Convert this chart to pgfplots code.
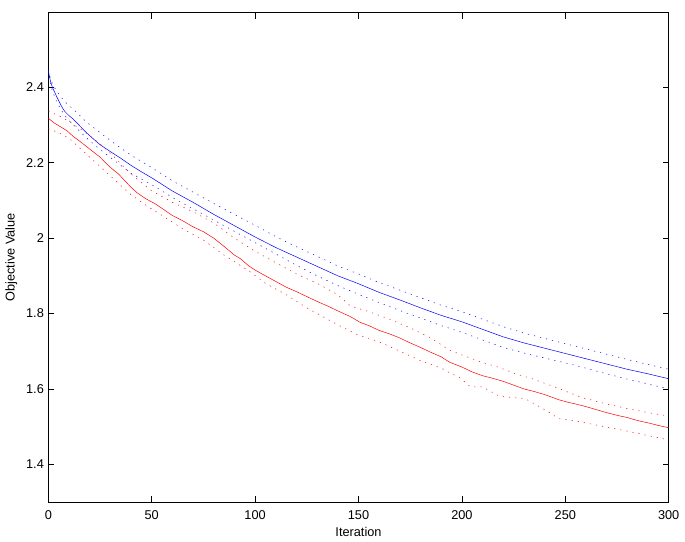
\documentclass[border=0pt]{standalone}
\usepackage{fontspec}
\setmainfont{Liberation Sans}
\usepackage{pgfplots}
\pgfplotsset{compat=1.18}

\begin{document}
\fontsize{12.8}{14}\selectfont
\begin{tikzpicture}
\path[use as bounding box] (0,0) rectangle (685bp,542bp);
\begin{axis}[
  at={(48.3bp,40bp)}, anchor=south west,
  scale only axis, width=620.4bp, height=489.3bp,
  xmin=0, xmax=300, ymin=1.3, ymax=2.598,
  xtick={0,50,...,300}, ytick={1.4,1.6,1.8,2,2.2,2.4},
  yticklabel style={/pgf/number format/fixed, /pgf/number format/precision=1},
  /pgf/number format/assume math mode=true,
  tick align=inside, major tick length=6bp,
  tick style={black, line width=0.5bp},
  axis line style={line width=0.6bp},
  xticklabel style={yshift=-4bp},
  xlabel={Iteration}, ylabel={Objective Value},
  xlabel style={at={(axis description cs:0.5,0)}, anchor=north, yshift=-20.5bp},
  ylabel style={at={(axis description cs:0,0.5)}, anchor=center, yshift=37bp},
  every axis plot/.append style={line width=0.5bp},
]
% blue mean
\addplot[blue] coordinates {(0,2.445)(0.5,2.43)(1,2.418)(1.5,2.408)(2,2.40)(3,2.388)(4,2.376)(5,2.365)(6,2.354)(7,2.344)(8,2.336)(10,2.325)(12,2.316)(15,2.299)(18,2.282)(21,2.267)(25,2.248)(31,2.226)(35,2.212)(40,2.193)(45,2.176)(50,2.16)(60,2.125)(70,2.095)(80,2.063)(90,2.033)(100,2.003)(110,1.975)(120,1.95)(130,1.925)(140,1.90)(150,1.879)(160,1.856)(170,1.836)(180,1.815)(190,1.795)(200,1.778)(210,1.758)(220,1.738)(230,1.722)(240,1.708)(250,1.694)(260,1.68)(270,1.666)(280,1.652)(290,1.64)(300,1.627)};
% blue bounds
\addplot[blue, dash pattern=on 1.2bp off 5bp] coordinates {(0,2.445)(1,2.425)(2,2.41)(4,2.39)(6,2.375)(8,2.362)(10,2.352)(14,2.332)(18,2.31)(25,2.28)(31,2.255)(40,2.22)(50,2.187)(60,2.152)(70,2.122)(80,2.092)(90,2.063)(100,2.034)(110,2.004)(120,1.977)(130,1.952)(140,1.926)(150,1.905)(160,1.882)(170,1.862)(180,1.842)(190,1.822)(200,1.805)(210,1.785)(220,1.765)(230,1.748)(240,1.734)(250,1.72)(260,1.706)(270,1.692)(280,1.678)(290,1.665)(300,1.652)};
\addplot[blue, dash pattern=on 1.2bp off 5bp] coordinates {(0,2.445)(1,2.41)(2,2.39)(4,2.362)(6,2.342)(8,2.325)(10,2.312)(14,2.29)(18,2.268)(25,2.235)(31,2.21)(40,2.172)(50,2.142)(60,2.108)(70,2.078)(80,2.048)(90,2.018)(100,1.988)(110,1.958)(120,1.928)(130,1.90)(140,1.874)(150,1.851)(160,1.829)(170,1.808)(180,1.788)(190,1.768)(200,1.75)(210,1.73)(220,1.71)(230,1.695)(240,1.682)(250,1.669)(260,1.655)(270,1.64)(280,1.626)(290,1.613)(300,1.60)};
% red mean
\addplot[red] coordinates {(0,2.318)(3,2.305)(6,2.295)(9,2.285)(12,2.27)(15,2.258)(18,2.245)(21,2.232)(25,2.215)(28,2.198)(31,2.183)(34,2.17)(37,2.152)(40,2.135)(43,2.12)(47,2.105)(52,2.09)(56,2.075)(60,2.06)(65,2.046)(70,2.03)(75,2.017)(80,2.0)(85,1.978)(90,1.955)(93,1.945)(97,1.926)(101,1.912)(105,1.9)(110,1.885)(115,1.87)(120,1.858)(125,1.845)(130,1.832)(135,1.82)(140,1.807)(146,1.792)(151,1.776)(155,1.768)(160,1.755)(165,1.746)(170,1.735)(175,1.722)(180,1.71)(185,1.697)(190,1.685)(194,1.671)(200,1.658)(205,1.645)(210,1.635)(215,1.628)(220,1.62)(225,1.61)(230,1.60)(235,1.593)(240,1.585)(247,1.571)(251,1.565)(255,1.56)(260,1.553)(265,1.545)(270,1.537)(275,1.53)(280,1.524)(285,1.516)(290,1.51)(295,1.503)(300,1.497)};
% red bounds
\addplot[red, dash pattern=on 1.2bp off 5bp] coordinates {(0,2.337)(5,2.325)(10,2.31)(18,2.28)(25,2.25)(31,2.22)(40,2.17)(50,2.125)(60,2.095)(70,2.07)(80,2.04)(90,2.0)(100,1.965)(110,1.935)(120,1.905)(130,1.88)(140,1.85)(146,1.82)(155,1.805)(165,1.785)(175,1.762)(185,1.735)(194,1.703)(200,1.69)(210,1.67)(218,1.657)(226,1.64)(234,1.627)(245,1.605)(258,1.577)(270,1.56)(280,1.548)(290,1.537)(300,1.528)};
\addplot[red, dash pattern=on 1.2bp off 5bp] coordinates {(0,2.29)(5,2.28)(10,2.265)(18,2.225)(25,2.19)(31,2.16)(40,2.115)(47,2.088)(55,2.06)(65,2.025)(75,1.995)(85,1.955)(97,1.913)(105,1.88)(115,1.85)(125,1.815)(135,1.785)(140,1.77)(149,1.745)(160,1.725)(170,1.70)(180,1.675)(190,1.655)(194,1.643)(199,1.63)(204,1.606)(210,1.605)(218,1.581)(231,1.573)(240,1.545)(247,1.521)(255,1.515)(267,1.502)(280,1.488)(297,1.468)(300,1.466)};
\end{axis}
\end{tikzpicture}
\end{document}
